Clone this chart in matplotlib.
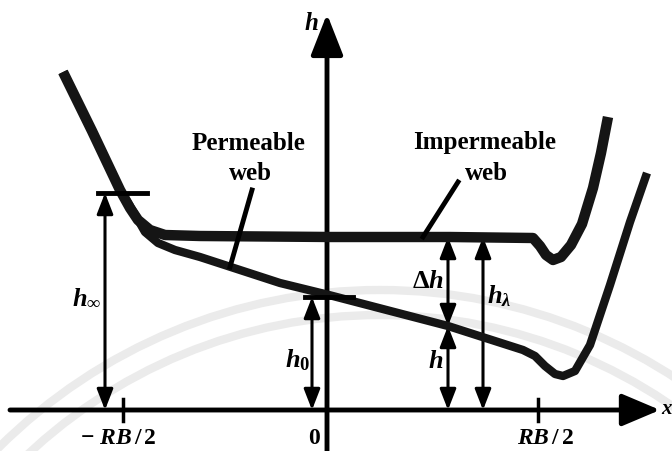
import numpy as np
import matplotlib
matplotlib.use("Agg")
import matplotlib.pyplot as plt
from matplotlib.patches import Arc

plt.rcParams['font.family'] = ['Liberation Serif', 'DejaVu Serif']
plt.rcParams['mathtext.fontset'] = 'custom'
plt.rcParams['mathtext.it'] = 'Liberation Serif:bold:italic'
plt.rcParams['mathtext.rm'] = 'Liberation Serif:bold'
plt.rcParams['mathtext.bf'] = 'Liberation Serif:bold'

# =====================================================
# CURVE DATA (pixel-like units)
# =====================================================
imp_x = [63, 92, 120, 130, 138, 150, 165, 200, 330, 450, 533, 540, 546, 553, 561, 571, 582, 593, 601, 608]
imp_y = [72, 131, 190, 208, 220, 230, 235, 236, 237, 237, 238, 246, 255, 260, 257, 245, 224, 188, 153, 117]

perm_x = [63, 92, 120, 130, 137, 145, 158, 175, 200, 280, 329, 448, 523, 535, 545, 555, 563, 575, 590, 610, 630, 647]
perm_y = [72, 131, 190, 206, 218, 232, 243, 250, 257, 283, 295, 326, 350, 356, 366, 374, 376, 371, 345, 285, 222, 173]

# dimension arrows: x, top, bottom, label, label x, label y, alignment
dim_x = [105, 312, 448, 448, 483]
dim_top = [193, 297, 237, 326, 237]
dim_bot = [410, 410, 326, 410, 410]
dim_labels = [r'$h_\infty$', r'$h_0$', r'$\Delta h$', r'$h$', r'$h_\lambda$']
dim_lx = [101, 298, 444, 443, 487]
dim_ly = [298, 360, 282, 362, 296]
dim_ha = ['right', 'center', 'right', 'right', 'left']

# ticks on the x axis
tick_x = [123, 538]
tick_labels = [r'$-\ RB\,/\,2$', r'$RB\,/\,2$']
tick_lx = [118, 545]

# short marker bars
bar_x0 = [98, 305]
bar_x1 = [147, 353]
bar_y = [193, 297]

fig = plt.figure(figsize=(6.72, 4.51), dpi=100)
ax = fig.add_axes([0, 0, 1, 1])
ax.set_xlim(0, 672)
ax.set_ylim(451, 0)
ax.axis('off')

# faint watermark arcs in the background
for r in [540, 515]:
    ax.add_patch(Arc((380, 830), 2 * r, 2 * r, theta1=180, theta2=360,
                     color='#ebebeb', lw=6, zorder=0))

# axes with arrow heads
ax.annotate('', xy=(660, 410), xytext=(10, 410),
            arrowprops=dict(arrowstyle='-|>,head_length=1.3,head_width=0.55',
                            lw=3.5, color='black', mutation_scale=18,
                            shrinkA=0, shrinkB=0), zorder=3)
ax.annotate('', xy=(327, 14), xytext=(327, 451),
            arrowprops=dict(arrowstyle='-|>,head_length=1.4,head_width=0.55',
                            lw=3.5, color='black', mutation_scale=18,
                            shrinkA=0, shrinkB=0), zorder=3)
ax.text(311, 24, r'$h$', fontsize=18, ha='center', va='center')
ax.text(661, 410, r'$x$', fontsize=15, ha='left', va='center')

for tx, tl, lx in zip(tick_x, tick_labels, tick_lx):
    ax.plot([tx, tx], [399, 421], color='black', lw=2.5, zorder=3)
    ax.text(lx, 438, tl, fontsize=17, ha='center', va='center')
ax.text(314, 438, '0', fontsize=17, fontweight='bold', ha='center', va='center')

# web curves
ax.plot(perm_x, perm_y, color='#151515', lw=6, solid_capstyle='butt',
        solid_joinstyle='round', zorder=4)
ax.plot(imp_x, imp_y, color='#151515', lw=7.5, solid_capstyle='butt',
        solid_joinstyle='round', zorder=4)

for x0, x1, y in zip(bar_x0, bar_x1, bar_y):
    ax.plot([x0, x1], [y, y], color='black', lw=3.5, zorder=5)

# dimension arrows
for x, y0, y1, lab, lx, ly, ha in zip(dim_x, dim_top, dim_bot, dim_labels,
                                      dim_lx, dim_ly, dim_ha):
    ax.annotate('', xy=(x, y0), xytext=(x, y1),
                arrowprops=dict(arrowstyle='<|-|>,head_length=0.9,head_width=0.35',
                                lw=2.2, color='black', mutation_scale=14,
                                shrinkA=0, shrinkB=0), zorder=3)
    ax.text(lx, ly, lab, fontsize=19, ha=ha, va='center', zorder=6)

# callouts
ax.text(249, 143, 'Permeable', fontsize=18, fontweight='bold', ha='center', va='center')
ax.text(250, 174, 'web', fontsize=18, fontweight='bold', ha='center', va='center')
ax.plot([252, 230], [190, 267], color='black', lw=3.5, zorder=5)

ax.text(485, 142, 'Impermeable', fontsize=18, fontweight='bold', ha='center', va='center')
ax.text(486, 174, 'web', fontsize=18, fontweight='bold', ha='center', va='center')
ax.plot([458, 423], [182, 237], color='black', lw=3.5, zorder=5)

fig.savefig('out.png', dpi=100)
